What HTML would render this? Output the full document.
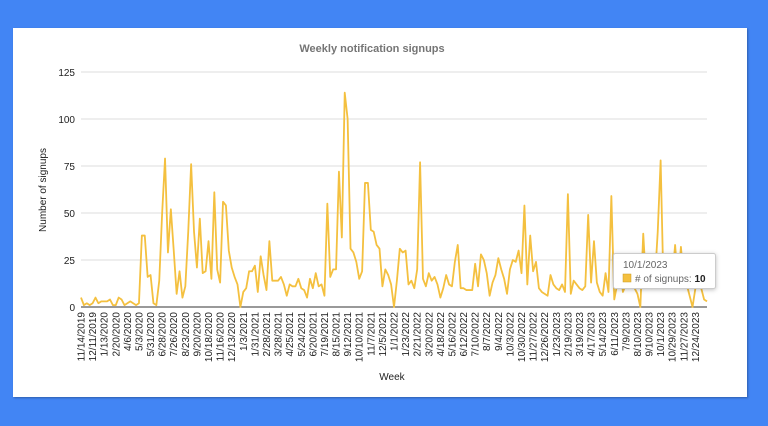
<!DOCTYPE html>
<html><head><meta charset="utf-8"><style>
body{margin:0;width:768px;height:426px;background:#4285f4;overflow:hidden;font-family:"Liberation Sans",Arial,sans-serif}
#card{position:absolute;left:13px;top:28px;width:734px;height:369px;background:#fff;box-shadow:1px 1px 2px rgba(0,0,0,.3)}
svg{position:absolute;left:0;top:0}
</style></head><body>
<div id="card"></div>
<svg id="chart" width="768" height="426"></svg>
<script>
const labels=["11/14/2019","12/11/2019","1/13/2020","2/20/2020","4/6/2020","5/3/2020","5/31/2020","6/28/2020","7/26/2020","8/23/2020","9/20/2020","10/18/2020","11/16/2020","12/13/2020","1/3/2021","1/31/2021","2/28/2021","3/28/2021","4/25/2021","5/24/2021","6/20/2021","7/19/2021","8/15/2021","9/12/2021","10/10/2021","11/7/2021","12/5/2021","1/1/2022","1/23/2022","2/21/2022","3/20/2022","4/18/2022","5/16/2022","6/12/2022","7/10/2022","8/7/2022","9/4/2022","10/3/2022","10/30/2022","11/27/2022","12/26/2022","1/23/2023","2/19/2023","3/19/2023","4/17/2023","5/14/2023","6/11/2023","7/9/2023","8/10/2023","9/10/2023","10/1/2023","10/29/2023","11/27/2023","12/24/2023"];
const signups=[5,1,2,1,2,5,2,3,3,3,4,1,1,5,4,1,2,3,2,1,2,38,38,16,17,2,1,14,50,79,29,52,30,7,19,5,11,40,76,40,21,47,18,19,35,15,61,20,13,56,54,30,21,16,12,0,8,10,19,19,22,8,27,17,9,35,14,14,14,16,12,6,12,11,11,15,10,9,5,15,10,18,11,12,6,55,16,20,20,72,37,114,100,31,29,24,15,19,66,66,41,40,33,31,11,20,17,12,0,14,31,29,30,12,14,10,20,77,15,11,18,14,16,12,5,10,17,12,11,24,33,10,10,9,9,9,23,11,28,25,18,6,13,17,26,20,15,7,20,25,24,30,18,54,12,38,19,24,10,8,7,6,17,12,10,9,12,8,60,7,14,12,10,9,11,49,13,35,13,8,6,18,8,59,4,12,20,8,12,10,12,10,7,0,39,12,18,10,14,40,78,10,20,13,15,33,12,32,14,12,6,0,10,11,10,4,3];
const yTicks=[0,25,50,75,100,125];
const tooltipDate="10/1/2023", tooltipValue=10;
const NS="http://www.w3.org/2000/svg", svg=document.getElementById('chart');
const X0=81,X1=707,Y0=307,Y1=72;
const x=i=>X0+(X1-X0)*i/(signups.length-1);
const y=v=>Y0-(Y0-Y1)*v/125;
function mk(t,a,txt){const e=document.createElementNS(NS,t);for(const k in a)e.setAttribute(k,a[k]);if(txt!==undefined)e.textContent=txt;svg.appendChild(e);return e;}
let e;
e=mk('text',{x:372,y:52,'text-anchor':'middle','font-size':11,'font-weight':'bold',fill:'#757575'},'Weekly notification signups');


yTicks.forEach(t=>{
 e=mk('line',{x1:X0,x2:X1,y1:y(t),y2:y(t),stroke:t==0?'#333':'#ddd','stroke-width':1});
 
 
 e=mk('text',{x:75,y:y(t)+4,'text-anchor':'end','font-size':10,fill:'#222'},t);
 
 
});
labels.forEach((l,k)=>{
 const xx=x(k*4)+3.5;
 e=mk('text',{x:0,y:0,transform:`translate(${xx},312) rotate(-90)`,'text-anchor':'end','font-size':10,fill:'#222'},l);
 
 
});
e=mk('polyline',{points:signups.map((v,i)=>x(i)+','+y(v)).join(' '),fill:'none',stroke:'#f4c03f','stroke-width':1.8,'stroke-linejoin':'round'});


e=mk('text',{x:0,y:0,transform:'translate(46,190) rotate(-90)','text-anchor':'middle','font-size':10,fill:'#222'},'Number of signups');


e=mk('text',{x:392,y:380,'text-anchor':'middle','font-size':10,fill:'#222'},'Week');


e=mk('rect',{x:613.5,y:253.5,width:102,height:35,fill:'#fff',stroke:'#ccc',rx:2,style:'filter:drop-shadow(0 1px 2px rgba(0,0,0,.25))'});


e=mk('text',{x:623,y:268,'font-size':10,fill:'#666'},tooltipDate);


e=mk('rect',{x:623,y:274,width:8,height:8,fill:'#f4c03f',stroke:'#c99a20','stroke-width':0.5});


e=mk('text',{x:635,y:282,'font-size':10,fill:'#666'});


e.innerHTML='# of signups: <tspan font-weight="bold" fill="#222">'+tooltipValue+'</tspan>';
</script>
</body></html>
